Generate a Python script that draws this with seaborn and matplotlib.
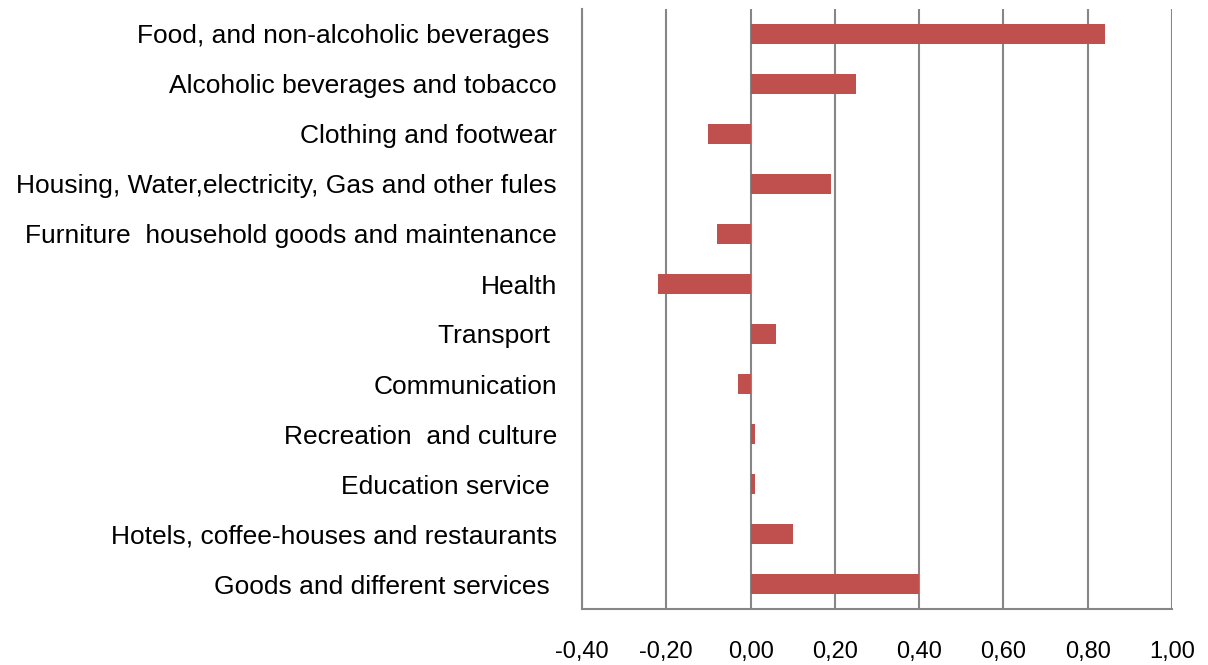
import matplotlib
matplotlib.use("Agg")
import matplotlib.pyplot as plt
import seaborn as sns
import pandas as pd

categories = [
    "Food, and non-alcoholic beverages ",
    "Alcoholic beverages and tobacco",
    "Clothing and footwear",
    "Housing, Water,electricity, Gas and other fules",
    "Furniture  household goods and maintenance",
    "Health",
    "Transport ",
    "Communication",
    "Recreation  and culture",
    "Education service ",
    "Hotels, coffee-houses and restaurants",
    "Goods and different services ",
]
values = [0.84, 0.25, -0.10, 0.19, -0.08, -0.22, 0.06, -0.03, 0.01, 0.01, 0.10, 0.40]
xticks = [-0.40, -0.20, 0.00, 0.20, 0.40, 0.60, 0.80, 1.00]
xtick_labels = ["-0,40", "-0,20", "0,00", "0,20", "0,40", "0,60", "0,80", "1,00"]

sns.set_theme(style="white")
plt.rcParams['font.family'] = ['Liberation Sans', 'DejaVu Sans']

df = pd.DataFrame({"cat": categories, "val": values})

fig = plt.figure(figsize=(12.08, 6.65), dpi=100)
ax = fig.add_axes([582/1208, 1 - 609/665, (1172-582)/1208, 600/665])

sns.barplot(data=df, x="val", y="cat", order=categories, color="#C0504D",
            saturation=1, width=0.4, orient="h", ax=ax, zorder=3,
            edgecolor="none")

ax.set_xlim(-0.40, 1.00)
ax.set_ylim(11.5, -0.5)
ax.set_xticks(xticks)
ax.set_xticklabels(xtick_labels)
ax.xaxis.grid(True, color="#868686", linewidth=1.5, zorder=0)
ax.yaxis.grid(False)
ax.set_axisbelow(True)
ax.set_xlabel("")
ax.set_ylabel("")

for s in ["top", "right"]:
    ax.spines[s].set_visible(False)
for s in ["left", "bottom"]:
    ax.spines[s].set_color("#868686")
    ax.spines[s].set_linewidth(1.5)

ax.tick_params(axis="x", length=0, pad=23, labelsize=17, colors="black")
ax.tick_params(axis="y", length=0, pad=18, labelsize=19, colors="black")

fig.savefig("out.png", dpi=100, facecolor="white")
